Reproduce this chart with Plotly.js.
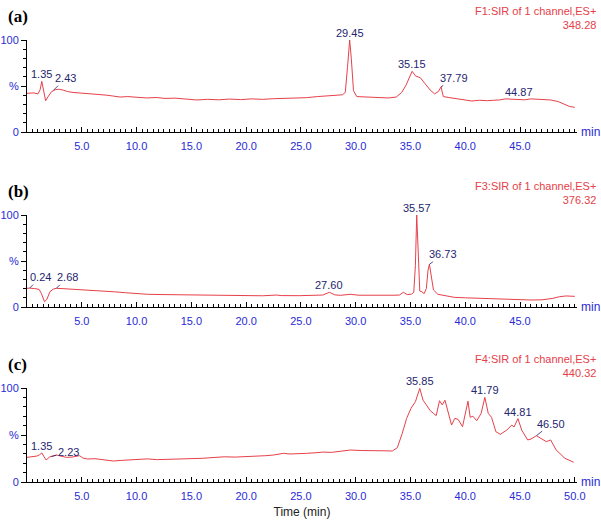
<!DOCTYPE html>
<html>
<head>
<meta charset="utf-8">
<script src="https://cdn.plot.ly/plotly-3.0.1.min.js"></script>
<style>
  html, body { margin: 0; padding: 0; background: #fff; }
  #chart { width: 601px; height: 527px; }
</style>
</head>
<body>
<div id="chart"></div>
<script>
// chromatogram (a) F1:SIR 348.28
const timeA = [0, 0.6, 1.0, 1.2, 1.35, 1.5, 1.7, 1.9, 2.25, 2.6, 2.9, 3.3, 3.7, 4.2, 4.8, 5.4, 6.0, 6.6, 7.3, 7.9, 8.5, 9.2, 10.0, 10.9, 11.8, 12.6, 13.5, 14.5, 15.5, 16.5, 17.5, 18.5, 19.5, 20.5, 21.5, 22.5, 23.5, 24.5, 25.5, 26.5, 27.5, 28.3, 28.8, 29.05, 29.25, 29.45, 29.6, 29.8, 30.1, 30.8, 31.5, 32.2, 33.0, 33.7, 34.2, 34.6, 34.9, 35.15, 35.45, 35.9, 36.3, 36.8, 37.2, 37.55, 37.79, 38.0, 38.5, 39.0, 39.5, 40.0, 40.6, 41.3, 42.0, 42.6, 43.1, 43.7, 44.3, 44.87, 45.4, 46.0, 46.6, 47.3, 47.8, 48.5, 49.0, 49.5, 50.0];
const intA = [42, 42.5, 41.5, 46, 55, 44, 34, 38, 44, 46, 46.5, 45.5, 44, 43, 42.5, 41.7, 41, 40.5, 40, 39, 38, 38.5, 37.7, 37, 37.5, 36.5, 36.8, 35.5, 34.8, 35.5, 35, 35.8, 35.2, 36, 35.5, 36.2, 36.5, 37.5, 37.3, 38.5, 39, 40, 40.5, 43, 70, 100, 80, 45, 38.5, 38, 37.3, 37.5, 37, 38, 43, 51, 60, 66, 61, 59, 53, 45.6, 41.5, 44, 49, 38.5, 37.5, 36.6, 35.5, 34.5, 33.7, 34.5, 34, 34.5, 34.8, 36, 35.5, 35.8, 35, 36, 35.8, 35.5, 34.8, 33, 30, 27.8, 26.8];

// chromatogram (b) F3:SIR 376.32
const timeB = [0, 0.24, 0.7, 1.1, 1.3, 1.5, 1.6, 1.8, 2.1, 2.4, 2.68, 3.2, 3.9, 4.5, 5.5, 6.9, 8.0, 9.0, 10.0, 11.0, 12.5, 14.0, 15.5, 17.0, 18.8, 20.0, 21.5, 22.8, 23.2, 24.9, 26.0, 27.0, 27.6, 28.1, 28.6, 29.5, 30.3, 31.5, 32.5, 33.5, 34.0, 34.35, 34.7, 35.1, 35.3, 35.45, 35.57, 35.7, 35.85, 36.05, 36.25, 36.45, 36.6, 36.73, 36.9, 37.1, 37.5, 38.0, 39.0, 40.0, 41.0, 42.0, 43.0, 44.0, 45.0, 46.0, 47.0, 47.6, 48.0, 48.6, 49.2, 50.0];
const intB = [20.3, 20.5, 20, 19.2, 15, 7, 5.8, 8, 16.7, 19.5, 20.3, 20, 19.6, 19, 18.3, 17.4, 16.5, 15.5, 14.5, 13.8, 13.5, 13.2, 13, 12.7, 12, 12.3, 12.2, 13, 12.4, 12.3, 12.6, 13, 16, 13.2, 12.7, 13.8, 12.8, 12.6, 12.3, 12.8, 13, 16, 13.5, 14, 16, 45, 100, 55, 17.4, 16.5, 14.5, 20, 40, 46.4, 35, 18.5, 13.8, 12.5, 10.5, 10, 9.5, 8.8, 8.3, 8, 7.8, 7.6, 7.8, 8.5, 9.4, 11.2, 12, 11.6];

// chromatogram (c) F4:SIR 440.32
const timeC = [0, 0.5, 0.9, 1.15, 1.35, 1.55, 1.75, 2.1, 2.4, 2.7, 3.1, 3.6, 4.1, 4.5, 4.8, 5.1, 5.5, 6.2, 7.0, 7.9, 8.6, 9.4, 10.3, 11.0, 11.9, 12.8, 13.6, 14.4, 15.2, 16.0, 16.7, 17.3, 18.0, 19.0, 20.1, 21.0, 21.8, 22.5, 23.0, 23.4, 24.0, 24.9, 25.5, 26.2, 27.0, 27.8, 28.6, 29.5, 30.5, 31.5, 32.5, 33.35, 33.8, 34.25, 34.65, 35.05, 35.45, 35.85, 36.15, 36.45, 36.8, 37.1, 37.35, 37.65, 37.9, 38.15, 38.45, 38.75, 39.05, 39.35, 39.75, 40.0, 40.25, 40.45, 40.7, 41.05, 41.45, 41.79, 42.1, 42.4, 42.8, 43.2, 43.8, 44.25, 44.45, 44.81, 45.15, 45.7, 46.0, 46.5, 47.1, 47.4, 47.8, 48.3, 49.1, 49.9];
const intC = [26.2, 26.8, 27.6, 29, 31, 27, 23.4, 26.9, 27.5, 28.7, 27.5, 26.2, 26.5, 26.9, 28, 25.5, 24.5, 24.8, 23.5, 22.3, 23, 23.8, 24.1, 24.6, 23.8, 24, 24.5, 24.8, 24.5, 25.2, 25.8, 26.2, 26.8, 26.5, 26.9, 27.2, 28, 28.7, 29.5, 30.5, 29.8, 29.8, 30.5, 31, 31.8, 31.5, 32.5, 34, 33.5, 33, 33.2, 33, 36.5, 51.8, 67.7, 78.4, 85.4, 99.6, 87, 82, 75.9, 73, 70.6, 86.5, 82, 87, 73, 60.6, 67.7, 66.6, 58.8, 73, 86, 68.8, 70, 65.2, 73, 90, 73, 68.8, 53.5, 50.7, 55.3, 60.6, 58.5, 67.4, 55.3, 44.7, 45.7, 49.3, 45.4, 42.9, 44.7, 34, 25.2, 21];

// peak labels: [time, intensity, text, leader dx, leader dy]  (dx/dy 0 -> plain label)
const peaksA = [[1.35, 55, '1.35', 0, 0], [2.43, 45.5, '2.43', 12, -12], [29.45, 100, '29.45', 0, 0], [35.15, 66, '35.15', 0, 0], [37.79, 49, '37.79', 13, -9], [44.87, 35.8, '44.87', 0, 0]];
const peaksB = [[0.24, 20.5, '0.24', 11, -11], [2.68, 20.3, '2.68', 11, -11], [27.6, 16, '27.60', 0, 0], [35.57, 100, '35.57', 0, 0], [36.73, 46.4, '36.73', 14, -10]];
const peaksC = [[1.35, 31, '1.35', 0, 0], [2.23, 27, '2.23', 17, -5], [35.85, 99.6, '35.85', 0, 0], [41.79, 90, '41.79', 0, 0], [44.81, 67.4, '44.81', 0, 0], [46.5, 49.3, '46.50', 15, -12]];

const channels = ['F1:SIR of 1 channel,ES+<br>348.28', 'F3:SIR of 1 channel,ES+<br>376.32', 'F4:SIR of 1 channel,ES+<br>440.32'];
const panelLetters = ['(a)', '(b)', '(c)'];
const tickTimes = [5, 10, 15, 20, 25, 30, 35, 40, 45, 50];

const W = 601, H = 527, L = 27, R = 24;
const RED = '#e6404a', NAVY = '#25256e', BLUE = '#2a2ad6';
const FONT = 'Liberation Sans, Arial, sans-serif';

// pixel -> paper helpers
const pxX = x => (x - L) / (W - L - R);
const pxY = y => 1 - y / H;

// y domains in pixels: [y of 0, y of 100]
const domainsPx = [[132, 40], [307, 215], [482, 388]];

const series = [[timeA, intA], [timeB, intB], [timeC, intC]];
const peaks = [peaksA, peaksB, peaksC];

const traces = [];
const annotations = [];
const layout = {
  width: W, height: H,
  margin: { l: L, r: R, t: 0, b: 0 },
  paper_bgcolor: '#fff', plot_bgcolor: '#fff',
  showlegend: false,
  font: { family: FONT, size: 11, color: BLUE },
  annotations: annotations
};

series.forEach(([t, v], i) => {
  const n = i === 0 ? '' : String(i + 1);
  traces.push({
    x: t, y: v, xaxis: 'x' + n, yaxis: 'y' + n,
    type: 'scatter', mode: 'lines',
    line: { color: RED, width: 1 },
    hoverinfo: 'skip'
  });

  const shownTicks = i === 2 ? tickTimes : tickTimes.slice(0, -1);
  layout['xaxis' + n] = {
    anchor: 'y' + n,
    domain: [0, 1],
    range: [0, 50.2],
    showline: true, linecolor: '#000', linewidth: 1,
    showgrid: false, zeroline: false,
    tickmode: 'array', tickvals: shownTicks, ticktext: shownTicks.map(d => d.toFixed(1)),
    ticks: 'inside', ticklen: 5, tickcolor: '#000', tickwidth: 1,
    ticklabelstandoff: 4,
    minor: { tickmode: 'linear', tick0: 0, dtick: 0.5, ticks: 'inside', ticklen: 3, tickcolor: '#000' },
    tickfont: { family: FONT, size: 11, color: BLUE }
  };
  const [y0, y1] = domainsPx[i];
  layout['yaxis' + n] = {
    anchor: 'x' + n,
    domain: [pxY(y0), pxY(y1)],
    range: [0, 100],
    showline: true, linecolor: '#000', linewidth: 1,
    showgrid: false, zeroline: false,
    tickmode: 'array', tickvals: [0, 50, 100], ticktext: ['0', '%', '100'],
    ticks: 'outside', ticklen: 5, tickcolor: '#000',
    minor: { tickmode: 'linear', tick0: 0, dtick: 10, ticks: 'outside', ticklen: 3, tickcolor: '#000' },
    tickfont: { family: FONT, size: 11, color: BLUE }
  };

  // "min" unit at axis end
  annotations.push({
    xref: 'x' + n + ' domain', yref: 'y' + n + ' domain', x: 1, y: 0,
    xanchor: 'left', yanchor: 'middle', xshift: 2,
    text: 'min', showarrow: false,
    font: { family: FONT, size: 12, color: BLUE }
  });

  // panel letter
  annotations.push({
    xref: 'paper', yref: 'paper', x: pxX(6), y: pxY(y1 - 24),
    xanchor: 'left', yanchor: 'middle',
    text: '<b>' + panelLetters[i] + '</b>', showarrow: false,
    font: { family: 'Liberation Serif, Times New Roman, serif', size: 17, color: '#000' }
  });

  // channel caption
  annotations.push({
    xref: 'paper', yref: 'paper', x: pxX(598), y: pxY(y1 - 22),
    xanchor: 'right', yanchor: 'middle', align: 'right',
    text: channels[i], showarrow: false,
    font: { family: FONT, size: 11, color: RED }
  });

  // peak labels
  peaks[i].forEach(([pt, pv, txt, dx, dy]) => {
    const a = {
      xref: 'x' + n, yref: 'y' + n, x: pt, y: pv,
      text: txt,
      font: { family: FONT, size: 11, color: NAVY }
    };
    if (dx === 0 && dy === 0) {
      Object.assign(a, { showarrow: false, yanchor: 'bottom', yshift: -1 });
    } else {
      Object.assign(a, { showarrow: true, arrowhead: 0, arrowwidth: 0.8, arrowcolor: NAVY, ax: dx, ay: dy, standoff: 0 });
    }
    annotations.push(a);
  });
});

layout.xaxis3.title = { text: 'Time (min)', font: { family: FONT, size: 12, color: '#222' }, standoff: 6 };

Plotly.newPlot('chart', traces, layout, { displayModeBar: false, staticPlot: true });
</script>
</body>
</html>
